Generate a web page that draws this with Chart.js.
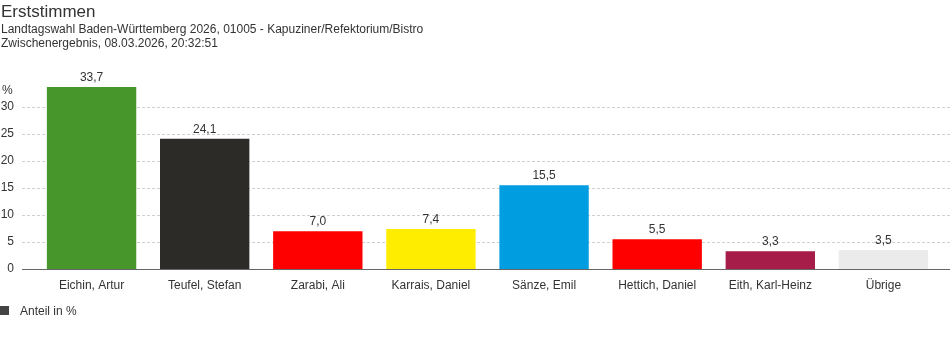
<!DOCTYPE html>
<html><head><meta charset="utf-8">
<script src="https://cdn.jsdelivr.net/npm/chart.js@4/dist/chart.umd.min.js"></script>
<style>
html,body{margin:0;padding:0;background:#fff;}
body{width:952px;height:352px;position:relative;overflow:hidden;font-family:"Liberation Sans",Arial,sans-serif;color:#333;}
#t{position:absolute;left:1px;top:2px;font-size:17px;line-height:20px;white-space:nowrap;}
#s{position:absolute;left:1px;top:22px;font-size:12px;line-height:14px;white-space:nowrap;}
#wrap{position:absolute;left:0;top:0;width:952px;height:352px;}
#lg{position:absolute;left:0;top:303px;font-size:12px;line-height:16px;white-space:nowrap;}
#lg span.b{display:inline-block;width:9px;height:9px;background:#444;margin-right:11px;}
</style></head>
<body>
<div id="wrap"><canvas id="c" width="952" height="352"></canvas></div>
<div id="t">Erststimmen</div>
<div id="s">Landtagswahl Baden-Württemberg 2026, 01005 - Kapuziner/Refektorium/Bistro<br>Zwischenergebnis, 08.03.2026, 20:32:51</div>
<div id="lg"><span class="b"></span>Anteil in %</div>
<script>
const categories = ["Eichin, Artur","Teufel, Stefan","Zarabi, Ali","Karrais, Daniel","Sänze, Emil","Hettich, Daniel","Eith, Karl-Heinz","Übrige"];
const values = [33.7, 24.1, 7.0, 7.4, 15.5, 5.5, 3.3, 3.5];
const barColors = ["#46962b","#2d2b28","#ff0000","#ffed00","#009ee0","#ff0000","#a51d48","#ebebeb"];
const yTicks = [0,5,10,15,20,25,30];
const seriesLabel = "Anteil in %";
const unitLabel = "%";

const fmt = v => v.toFixed(1).replace('.', ',');

const gridAndLabels = {
  id: 'gridAndLabels',
  beforeDatasetsDraw(chart) {
    const ctx = chart.ctx;
    const ys = chart.scales.y;
    ctx.save();
    ctx.strokeStyle = '#d0d0d0';
    ctx.lineWidth = 1;
    ctx.setLineDash([3, 2]);
    yTicks.forEach(v => {
      if (v === 0) return;
      const y = Math.round(ys.getPixelForValue(v)) + 0.5;
      ctx.beginPath();
      ctx.moveTo(22, y);
      ctx.lineTo(950, y);
      ctx.stroke();
    });
    ctx.restore();
  },
  afterDatasetsDraw(chart) {
    const ctx = chart.ctx;
    const meta = chart.getDatasetMeta(0);
    const ys = chart.scales.y;
    ctx.save();
    // baseline axis
    ctx.strokeStyle = '#666';
    ctx.lineWidth = 1;
    const y0 = Math.round(ys.getPixelForValue(0)) + 0.5;
    ctx.beginPath();
    ctx.moveTo(22, y0);
    ctx.lineTo(950, y0);
    ctx.stroke();

    ctx.font = '12px "Liberation Sans", Arial, sans-serif';
    ctx.fillStyle = '#333';
    ctx.textAlign = 'center';
    ctx.textBaseline = 'alphabetic';
    meta.data.forEach((bar, i) => {
      ctx.fillText(fmt(values[i]), bar.x, bar.y - 6);
    });
    ctx.textAlign = 'left';
    ctx.fillText(unitLabel, 2, ys.top + 14);
    ctx.restore();
  }
};

new Chart(document.getElementById('c'), {
  type: 'bar',
  data: {
    labels: categories,
    datasets: [{
      label: seriesLabel,
      data: values,
      backgroundColor: barColors,
      borderWidth: 0,
      barPercentage: 0.79,
      categoryPercentage: 1
    }]
  },
  options: {
    responsive: false,
    animation: false,
    devicePixelRatio: 1,
    layout: { padding: { top: 80, right: 12, bottom: 57, left: 0 } },
    plugins: {
      legend: { display: false },
      tooltip: { enabled: false },
      title: { display: false }
    },
    scales: {
      x: {
        grid: { display: false, drawTicks: false },
        border: { display: false },
        ticks: { color: '#333', font: { family: '"Liberation Sans", Arial, sans-serif', size: 12 }, padding: 9, maxRotation: 0, autoSkip: false },
        afterFit(s) { s.height = 26; }
      },
      y: {
        min: 0, max: 35,
        afterBuildTicks(s) { s.ticks = yTicks.map(v => ({ value: v })); },
        grid: { display: false, drawTicks: false, tickLength: 13 },
        border: { display: false },
        ticks: { color: '#333', font: { family: '"Liberation Sans", Arial, sans-serif', size: 12 }, padding: 21 },
        afterFit(s) { s.width = 35; }
      }
    }
  },
  plugins: [gridAndLabels]
});
</script>
</body></html>
